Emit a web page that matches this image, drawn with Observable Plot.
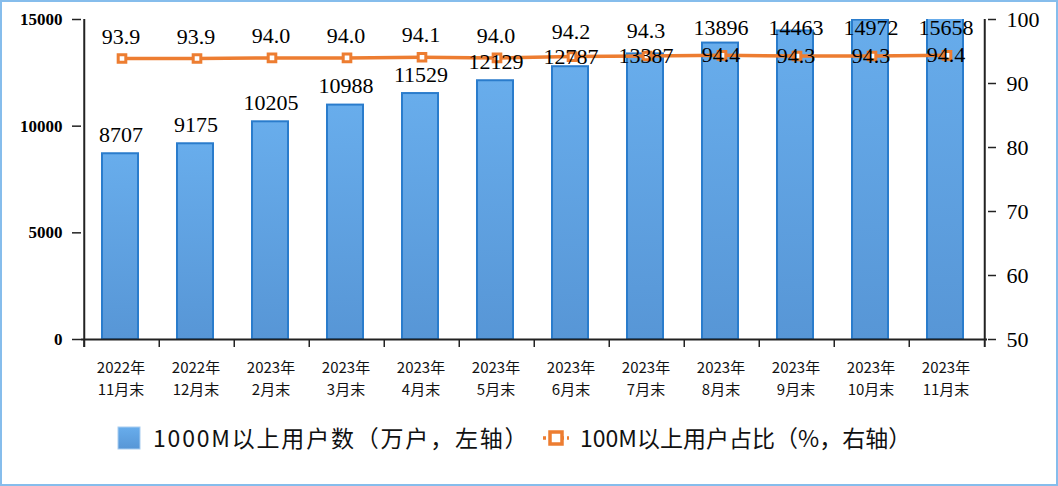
<!DOCTYPE html>
<html>
<head>
<meta charset="utf-8">
<script src="https://cdn.jsdelivr.net/npm/d3@7"></script>
<script src="https://cdn.jsdelivr.net/npm/@observablehq/plot@0.6"></script>
<style>
  html, body { margin: 0; padding: 0; background: #fff; }
  #wrap { position: relative; box-sizing: border-box; width: 1058px; height: 486px; border: 2px solid #86bdec; background: #fff; overflow: hidden; }
  #chart svg { display: block; }
  .leg { position: absolute; font-family: "Noto Sans CJK SC", sans-serif; font-size: 23px; line-height: 24px; color: #111; white-space: nowrap; }
</style>
</head>
<body>
<div id="wrap">
  <div id="chart"></div>
  <svg class="leg" style="left:115px; top:424px" width="24" height="24">
    <defs><linearGradient id="legGrad" x1="0" y1="0" x2="0" y2="1"><stop offset="0" stop-color="#68adec"/><stop offset="1" stop-color="#5796d6"/></linearGradient></defs>
    <rect x="1" y="1" width="22" height="22" fill="url(#legGrad)" stroke="#a9cdf0" stroke-width="1"/>
  </svg>
  <div class="leg" style="left:151px; top:423px; letter-spacing:1.8px">1000M以上用户数（万户，左轴）</div>
  <svg class="leg" style="left:540px; top:424px" width="28" height="24">
    <line x1="1" y1="12" x2="27" y2="12" stroke="#ed7d31" stroke-width="3.5" stroke-dasharray="3,3"/>
    <rect x="8" y="6" width="12" height="12" fill="#fff" stroke="#ed7d31" stroke-width="3.5"/>
  </svg>
  <div class="leg" style="left:578px; top:423px">100M以上用户占比（%，右轴）</div>
</div>
<script>
const categories = ["2022年\n11月末","2022年\n12月末","2023年\n2月末","2023年\n3月末","2023年\n4月末","2023年\n5月末","2023年\n6月末","2023年\n7月末","2023年\n8月末","2023年\n9月末","2023年\n10月末","2023年\n11月末"];
const gigabitUsers = [8707, 9175, 10205, 10988, 11529, 12129, 12787, 13387, 13896, 14463, 14972, 15658];
const share100M = [93.9, 93.9, 94.0, 94.0, 94.1, 94.0, 94.2, 94.3, 94.4, 94.3, 94.3, 94.4];
const leftTicks = [0, 5000, 10000, 15000];
const rightTicks = [50, 60, 70, 80, 90, 100];

const leftMax = 15000, rightMin = 50, rightMax = 100;
const toLeft = v => (v - rightMin) / (rightMax - rightMin) * leftMax;
const fromLeft = v => Math.round(rightMin + v / leftMax * (rightMax - rightMin));

const rows = categories.map((c, i) => ({i, cat: c, users: gigabitUsers[i], share: share100M[i], line1: c.split("\n")[0], line2: c.split("\n")[1]}));

const W = 1054, H = 400, ML = 79, MR = 69, MT = 17, MB = 63;
const bw = (W - ML - MR) / categories.length;
const serif = "'Liberation Serif', 'Times New Roman', serif";
const cjk = "'Noto Sans CJK SC', sans-serif";
const tickExt = -8 / (H - MT - MB) * leftMax;
const axisColor = "#222";

const chart = Plot.plot({
  width: W, height: H,
  marginLeft: ML, marginRight: MR, marginTop: MT, marginBottom: MB,
  x: {type: "band", domain: categories, padding: 0, axis: null},
  y: {domain: [0, leftMax], axis: null},
  style: {background: "transparent", color: "#000", overflow: "visible"},
  marks: [
    Plot.barY(rows, {x: "cat", y: "users", fill: "url(#barGrad)", stroke: "#2a7ccc", strokeWidth: 2, insetLeft: 18, insetRight: 21, clip: true}),
    Plot.ruleY([0], {stroke: axisColor, strokeWidth: 2}),
    Plot.ruleX(categories, {x: d => d, dx: -bw / 2, y1: 0, y2: tickExt, stroke: axisColor, strokeWidth: 1.5}),
    Plot.ruleX([categories[0]], {x: d => d, dx: -bw / 2, y1: tickExt, y2: leftMax, stroke: axisColor, strokeWidth: 2}),
    Plot.ruleX([categories[categories.length - 1]], {x: d => d, dx: bw / 2, y1: tickExt, y2: leftMax, stroke: axisColor, strokeWidth: 2}),
    Plot.axisY({anchor: "left", label: null, ticks: leftTicks, tickFormat: d => String(d), tickSize: 9, tickPadding: 10, fontSize: 17, fontWeight: "bold", fontFamily: serif, stroke: axisColor, strokeWidth: 1.5}),
    Plot.axisY({anchor: "right", label: null, ticks: rightTicks.map(toLeft), tickFormat: d => String(fromLeft(d)), tickSize: 8, tickPadding: 11, fontSize: 22, fontFamily: serif, stroke: axisColor, strokeWidth: 1.5}),
    Plot.text(rows, {x: "cat", y: 0, text: "line1", lineAnchor: "bottom", dy: 33, dx: -1, fontSize: 15, fontFamily: cjk, fill: "#111"}),
    Plot.text(rows, {x: "cat", y: 0, text: "line2", lineAnchor: "bottom", dy: 55, dx: -1, fontSize: 15, fontFamily: cjk, fill: "#111"}),
    Plot.line(rows, {x: "cat", y: d => toLeft(d.share), stroke: "#ed7d31", strokeWidth: 3.5}),
    Plot.dot(rows, {x: "cat", y: d => toLeft(d.share), symbol: "square", r: 4.3, stroke: "#ed7d31", strokeWidth: 3, fill: "#fff"}),
    Plot.text(rows.filter(d => d.i < 6), {x: "cat", y: "users", text: d => String(d.users), lineAnchor: "bottom", dy: -12, dx: -1, fontSize: 22, fontFamily: serif, fill: "#000"}),
    Plot.text(rows.filter(d => d.i >= 6 && d.i < 8), {x: "cat", y: d => toLeft(d.share), text: d => String(d.users), lineAnchor: "middle", dx: -1, fontSize: 22, fontFamily: serif, fill: "#000"}),
    Plot.text(rows.filter(d => d.i >= 8), {x: "cat", y: leftMax, text: d => String(d.users), lineAnchor: "top", dx: -1, fontSize: 22, fontFamily: serif, fill: "#000"}),
    Plot.text(rows.filter(d => d.i < 6), {x: "cat", y: d => toLeft(d.share), text: d => d.share.toFixed(1), lineAnchor: "bottom", dy: -15, dx: -1, fontSize: 22, fontFamily: serif, fill: "#000"}),
    Plot.text(rows.filter(d => d.i >= 6 && d.i < 8), {x: "cat", y: d => toLeft(d.share), text: d => d.share.toFixed(1), lineAnchor: "bottom", dy: -18, dx: -1, fontSize: 22, fontFamily: serif, fill: "#000"}),
    Plot.text(rows.filter(d => d.i >= 8), {x: "cat", y: d => toLeft(d.share), text: d => d.share.toFixed(1), lineAnchor: "middle", dx: -1, fontSize: 22, fontFamily: serif, fill: "#000"})
  ]
});

const ns = "http://www.w3.org/2000/svg";
const defs = document.createElementNS(ns, "defs");
defs.innerHTML = '<linearGradient id="barGrad" x1="0" y1="0" x2="0" y2="1"><stop offset="0" stop-color="#68adec"/><stop offset="1" stop-color="#5796d6"/></linearGradient>';
chart.insertBefore(defs, chart.firstChild);
document.getElementById("chart").appendChild(chart);
</script>
</body>
</html>
